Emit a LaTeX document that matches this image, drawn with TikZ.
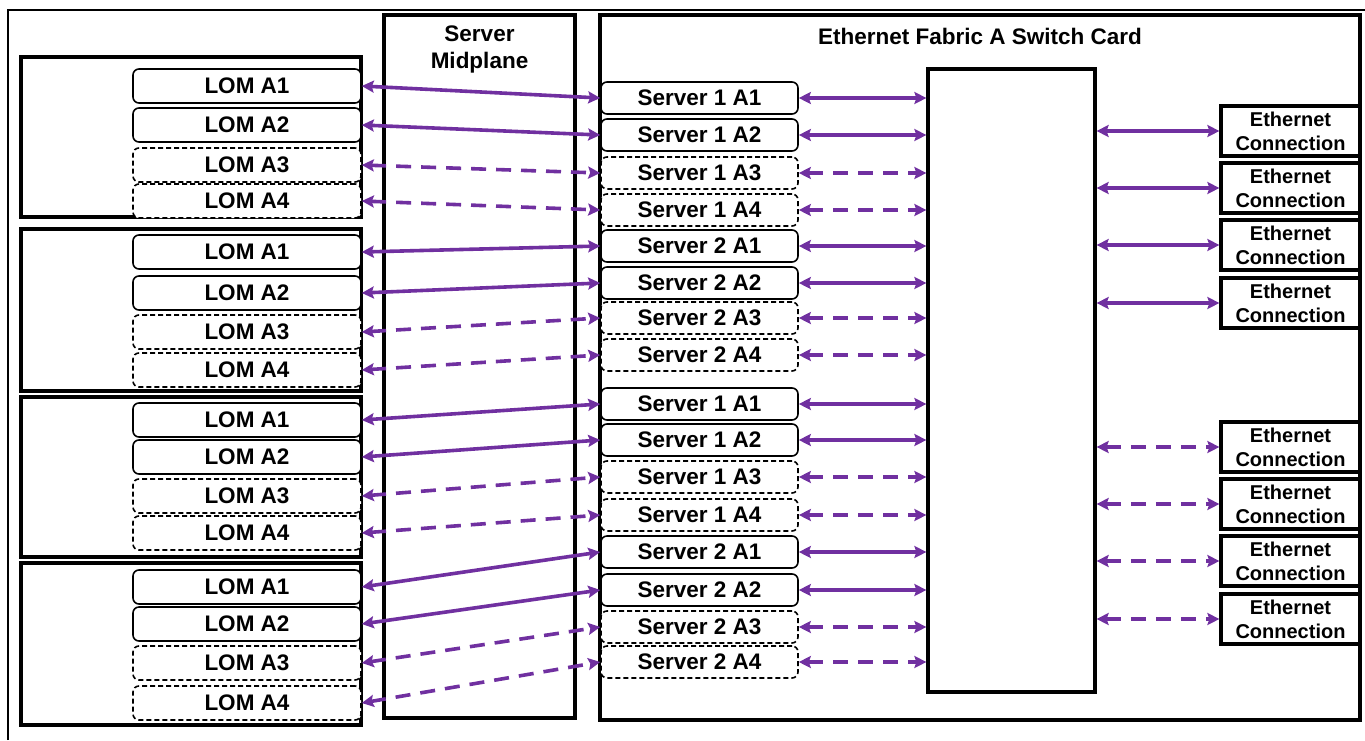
\documentclass[tikz,border=0pt]{standalone}
\usepackage{fontspec}
\setmainfont{Liberation Sans}
\usetikzlibrary{arrows.meta}
\definecolor{linkc}{HTML}{7030A0}
\begin{document}
\begin{tikzpicture}[x=1pt,y=-1pt,
  frame/.style={draw=black,line width=3.2pt,inner sep=0pt},
  lomsolid/.style={draw=black,line width=1.6pt,rounded corners=6pt,fill=white,minimum width=228pt,minimum height=34pt,inner sep=0pt,font=\fontsize{22.5}{24}\selectfont\bfseries},
  lomdash/.style={lomsolid,dash pattern=on 5pt off 3pt},
  srvsolid/.style={lomsolid,minimum width=197pt,minimum height=32pt},
  srvdash/.style={srvsolid,dash pattern=on 5pt off 3pt},
  ethbox/.style={frame,fill=white,minimum width=139pt,minimum height=50pt,align=center,font=\fontsize{20}{24}\selectfont\bfseries},
  lnk/.style={draw=linkc,line width=3.6pt,arrows={Stealth[length=12pt,width=12pt,inset=2pt]-Stealth[length=12pt,width=12pt,inset=2pt]}},
  lnksolid/.style={lnk},
  lnkdash/.style={lnk,dash pattern=on 15pt off 10pt}]
\useasboundingbox (0,0) rectangle (1365,740);
% outer frame
\coordinate (fbl) at (8,740);
\coordinate (ftl) at (8,10);
\coordinate (ftr) at (1365,10);
\draw[line width=1.5pt] (fbl) -- (ftl) -- (ftr);
% midplane and switch card
\node[frame,minimum width=191pt,minimum height=703pt] (mid) at (479.5,366.5) {};
\node[align=center,font=\fontsize{22.5}{27}\selectfont\bfseries] (midt) at (479.5,49.5) {Server\\Midplane};
\node[frame,minimum width=760pt,minimum height=705pt] (card) at (980,367.5) {};
\node[font=\fontsize{22.5}{24}\selectfont\bfseries] (cardt) at (980,36) {Ethernet Fabric A Switch Card};
% blades
\foreach \b/\ya/\yb in {1/57/217, 2/229/391, 3/397/557, 4/563/725}{
  \node[frame,minimum width=340pt,minimum height={\yb-\ya}] (blade\b) at (191,{(\ya+\yb)/2}) {};
}
% LOM ports
\foreach \b/\ya/\yb/\yc/\yd in {1/86/125/165/201, 2/252/293/332/370, 3/420/457/496/533, 4/587/624/663/703}{
  \node[lomsolid] (l\b1) at (247,\ya) {LOM A1};
  \node[lomsolid] (l\b2) at (247,\yb) {LOM A2};
  \node[lomdash] (l\b3) at (247,\yc) {LOM A3};
  \node[lomdash] (l\b4) at (247,\yd) {LOM A4};
}
% server ports on switch card
\foreach \k/\y/\t/\st in {1/98/Server 1 A1/srvsolid, 2/135/Server 1 A2/srvsolid, 3/173/Server 1 A3/srvdash, 4/210/Server 1 A4/srvdash,
  5/246/Server 2 A1/srvsolid, 6/283/Server 2 A2/srvsolid, 7/318/Server 2 A3/srvdash, 8/355/Server 2 A4/srvdash,
  9/404/Server 1 A1/srvsolid, 10/440/Server 1 A2/srvsolid, 11/477/Server 1 A3/srvdash, 12/515/Server 1 A4/srvdash,
  13/552/Server 2 A1/srvsolid, 14/590/Server 2 A2/srvsolid, 15/627/Server 2 A3/srvdash, 16/662/Server 2 A4/srvdash}{
  \node[\st] (s\k) at (699.5,\y) {\t};
}
% switch chip
\node[frame,minimum width=167pt,minimum height=623pt] (chip) at (1011.5,380.5) {};
% ethernet connections
\foreach \k/\y in {1/131, 2/188, 3/245, 4/303, 5/447, 6/504, 7/561, 8/619}{
  \node[ethbox] (e\k) at (1290.5,\y) {Ethernet\\Connection};
}
% links LOM -> server ports
\foreach \b in {1,...,4}{
  \foreach \i/\ls in {1/lnksolid, 2/lnksolid, 3/lnkdash, 4/lnkdash}{
    \pgfmathtruncatemacro\k{(\b-1)*4+\i}
    \draw[\ls] (l\b\i.east) -- (s\k.west);
  }
}
% links server ports -> chip
\foreach \k/\ls in {1/lnksolid, 2/lnksolid, 3/lnkdash, 4/lnkdash, 5/lnksolid, 6/lnksolid, 7/lnkdash, 8/lnkdash,
  9/lnksolid, 10/lnksolid, 11/lnkdash, 12/lnkdash, 13/lnksolid, 14/lnksolid, 15/lnkdash, 16/lnkdash}{
  \draw[\ls] (s\k.east) -- (chip.west |- s\k.east);
}
% links chip -> ethernet
\foreach \k/\ls in {1/lnksolid, 2/lnksolid, 3/lnksolid, 4/lnksolid, 5/lnkdash, 6/lnkdash, 7/lnkdash, 8/lnkdash}{
  \draw[\ls] (chip.east |- e\k.west) -- (e\k.west);
}
\end{tikzpicture}
\end{document}
